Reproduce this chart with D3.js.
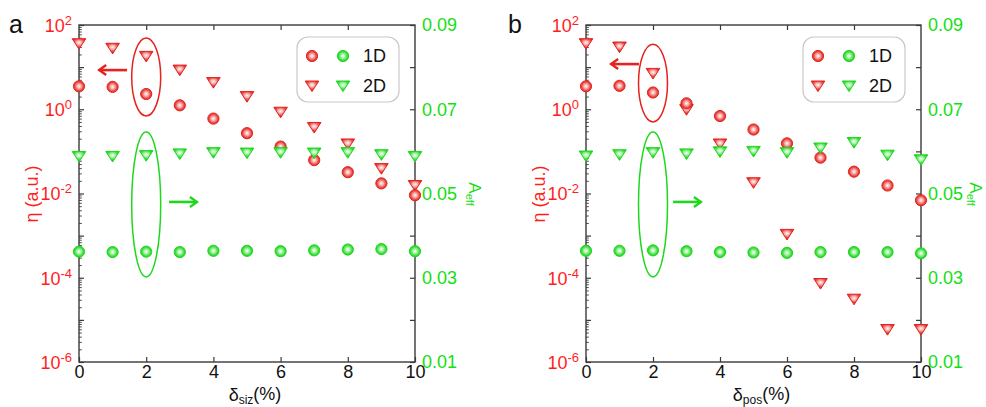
<!DOCTYPE html>
<html>
<head>
<meta charset="utf-8">
<script src="https://cdn.jsdelivr.net/npm/d3@7"></script>
<style>
  html, body { margin: 0; padding: 0; background: #fff; }
  svg { display: block; font-family: "Liberation Sans", Arial, sans-serif; }
</style>
</head>
<body>
<svg id="chart" width="986" height="407"></svg>
<script>
// Disorder level (%) along the x axis
const delta = [0, 1, 2, 3, 4, 5, 6, 7, 8, 9, 10];
const xTickValues = [0, 2, 4, 6, 8, 10];
const etaDecades = [-6, -5, -4, -3, -2, -1, 0, 1, 2];
const aeffTickValues = [0.01, 0.02, 0.03, 0.04, 0.05, 0.06, 0.07, 0.08, 0.09];

// Panel a: size disorder
const etaSiz1D = [3.5, 3.4, 2.3, 1.24, 0.6, 0.27, 0.13, 0.062, 0.032, 0.0174, 0.0091];
const etaSiz2D = [36, 28, 18, 8.5, 4.3, 2.0, 0.85, 0.37, 0.15, 0.039, 0.0155];
const aeffSiz1D = [0.0362, 0.0361, 0.0362, 0.0361, 0.0364, 0.0364, 0.0363, 0.0365, 0.0367, 0.0368, 0.0363];
const aeffSiz2D = [0.0588, 0.0588, 0.0590, 0.0594, 0.0597, 0.0596, 0.0597, 0.0596, 0.0597, 0.0592, 0.0588];

// Panel b: position disorder
const etaPos1D = [3.5, 3.6, 2.5, 1.38, 0.69, 0.33, 0.155, 0.071, 0.033, 0.0155, 0.0069];
const etaPos2D = [36, 30, 7.1, 0.98, 0.15, 0.018, 0.00107, 7.3e-5, 3.1e-5, 5.9e-6, 5.9e-6];
const aeffPos1D = [0.0364, 0.0364, 0.0365, 0.0363, 0.0361, 0.0360, 0.0359, 0.0361, 0.0361, 0.0361, 0.0358];
const aeffPos2D = [0.0589, 0.0592, 0.0597, 0.0594, 0.0599, 0.0600, 0.0597, 0.0608, 0.0621, 0.0591, 0.0580];

const RED = "#e5221d", GREEN = "#1ed81e";
const RED_TEXT = "#ff1e1e", GREEN_TEXT = "#12e012";
const AXIS = "#3a3a3a";
const FONT = 18;

const svg = d3.select("#chart");
svg.append("rect").attr("width", 986).attr("height", 407).attr("fill", "#fff");

// Shaded "sphere" fills for the markers
const defs = svg.append("defs");
function sphere(id, stops, cy) {
  const g = defs.append("radialGradient").attr("id", id)
    .attr("cx", "50%").attr("cy", cy).attr("r", "55%").attr("fx", "50%").attr("fy", cy);
  stops.forEach(([o, c]) => g.append("stop").attr("offset", o).attr("stop-color", c));
}
const redStops = [["0%", "#fff4f4"], ["30%", "#f6bcba"], ["70%", "#ea4a45"], ["100%", "#dc1f1a"]];
const greenStops = [["0%", "#f2fff2"], ["30%", "#b6f4b6"], ["70%", "#3fde3f"], ["100%", "#15c915"]];
sphere("redBall", redStops, "50%");
sphere("greenBall", greenStops, "50%");
sphere("redTri", redStops, "38%");
sphere("greenTri", greenStops, "38%");

const triPath = "M-6.8,-5L6.8,-5L0,5.6Z";

function drawMarkers(g, x, y, values, kind, color) {
  const sel = g.append("g").selectAll(kind === "circle" ? "circle" : "path")
    .data(values.map((v, i) => ({ x: delta[i], v })))
    .enter();
  if (kind === "circle") {
    sel.append("circle")
      .attr("cx", d => x(d.x)).attr("cy", d => y(d.v)).attr("r", 5.6)
      .attr("fill", color === "red" ? "url(#redBall)" : "url(#greenBall)")
      .attr("stroke", color === "red" ? RED : GREEN).attr("stroke-width", 1);
  } else {
    sel.append("path")
      .attr("d", triPath)
      .attr("transform", d => `translate(${x(d.x)},${y(d.v)})`)
      .attr("fill", color === "red" ? "url(#redTri)" : "url(#greenTri)")
      .attr("stroke", color === "red" ? RED : GREEN).attr("stroke-width", 1);
  }
}

function arrow(g, x1, x2, yv, color) {
  const dir = Math.sign(x2 - x1);
  g.append("line").attr("x1", x1).attr("x2", x2).attr("y1", yv).attr("y2", yv)
    .attr("stroke", color).attr("stroke-width", 2.6);
  g.append("path")
    .attr("d", `M${x2 - dir * 7},${yv - 5}L${x2},${yv}L${x2 - dir * 7},${yv + 5}`)
    .attr("fill", "none").attr("stroke", color).attr("stroke-width", 2.4)
    .attr("stroke-linejoin", "miter");
}

function drawPanel(p) {
  const g = svg.append("g");
  const x = d3.scaleLinear().domain([0, 10]).range([p.left, p.right]);
  const yL = d3.scaleLog().domain([1e-6, 1e2]).range([362, 25]);
  const yR = d3.scaleLinear().domain([0.01, 0.09]).range([362, 25]);

  // Minor log ticks on the left axis
  const minors = [];
  etaDecades.slice(0, -1).forEach(e => { for (let k = 2; k <= 9; k++) minors.push(k * Math.pow(10, e)); });
  g.append("g").attr("transform", `translate(${p.left},0)`)
    .call(d3.axisLeft(yL).tickValues(minors).tickSizeInner(-2.8).tickSizeOuter(0).tickFormat(""))
    .call(a => a.select(".domain").remove())
    .call(a => a.selectAll("line").attr("stroke", AXIS).attr("stroke-width", 0.9));

  // Major left axis (eta, log)
  g.append("g").attr("transform", `translate(${p.left},0)`)
    .call(d3.axisLeft(yL).tickValues(etaDecades.map(e => Math.pow(10, e)))
      .tickSizeInner(-5).tickSizeOuter(0).tickPadding(7).tickFormat(""))
    .call(a => a.select(".domain").remove())
    .call(a => a.selectAll("line").attr("stroke", AXIS).attr("stroke-width", 1.2))
    .call(a => a.selectAll("text").each(function (d) {
      const e = Math.round(Math.log10(d));
      const t = d3.select(this).attr("fill", RED_TEXT).attr("font-size", FONT)
        .attr("font-family", "Liberation Sans, Arial, sans-serif").attr("dy", "0.36em");
      if (e % 2 !== 0) return;
      t.append("tspan").text("10");
      t.append("tspan").attr("dy", "-0.55em").attr("font-size", 13).text(String(e));
    }));

  // Right axis (A_eff, linear)
  g.append("g").attr("transform", `translate(${p.right},0)`)
    .call(d3.axisRight(yR).tickValues(aeffTickValues).tickSizeInner(-5).tickSizeOuter(0).tickPadding(7)
      .tickFormat(d => Math.round(d * 100) % 2 === 1 ? d3.format(".2f")(d) : ""))
    .call(a => a.select(".domain").remove())
    .call(a => a.selectAll("line").attr("stroke", AXIS).attr("stroke-width", 1.2))
    .call(a => a.selectAll("text").attr("fill", GREEN_TEXT).attr("font-size", FONT)
      .attr("font-family", "Liberation Sans, Arial, sans-serif"));

  // Bottom axis
  g.append("g").attr("transform", "translate(0,362)")
    .call(d3.axisBottom(x).tickValues(xTickValues).tickSizeInner(-5).tickSizeOuter(0).tickPadding(3))
    .call(a => a.select(".domain").remove())
    .call(a => a.selectAll("line").attr("stroke", AXIS).attr("stroke-width", 1.2))
    .call(a => a.selectAll("text").attr("fill", "#111").attr("font-size", FONT)
      .attr("font-family", "Liberation Sans, Arial, sans-serif"));

  // Top axis (ticks only)
  g.append("g").attr("transform", "translate(0,25)")
    .call(d3.axisTop(x).tickValues(xTickValues.slice(1, -1)).tickSizeInner(-5).tickSizeOuter(0).tickFormat(""))
    .call(a => a.select(".domain").remove())
    .call(a => a.selectAll("line").attr("stroke", AXIS).attr("stroke-width", 1.2));

  // Frame
  g.append("rect").attr("x", p.left).attr("y", 25).attr("width", p.right - p.left).attr("height", 337)
    .attr("fill", "none").attr("stroke", AXIS).attr("stroke-width", 1.4);

  // Annotations: ellipses and arrows pointing to each axis
  g.append("ellipse").attr("cx", x(2)).attr("cy", (yL(p.redEll[0]) + yL(p.redEll[1])) / 2)
    .attr("rx", 14.5).attr("ry", (yL(p.redEll[1]) - yL(p.redEll[0])) / 2)
    .attr("fill", "none").attr("stroke", RED).attr("stroke-width", 1.5);
  g.append("ellipse").attr("cx", x(2)).attr("cy", (yR(p.greenEll[0]) + yR(p.greenEll[1])) / 2)
    .attr("rx", 14.5).attr("ry", (yR(p.greenEll[1]) - yR(p.greenEll[0])) / 2)
    .attr("fill", "none").attr("stroke", GREEN).attr("stroke-width", 1.5);
  arrow(g, x(p.redArrow[0]), x(p.redArrow[1]), yL(p.redArrow[2]), RED);
  arrow(g, x(p.greenArrow[0]), x(p.greenArrow[1]), yR(p.greenArrow[2]), GREEN);

  // Data markers
  drawMarkers(g, x, yL, p.eta2D, "tri", "red");
  drawMarkers(g, x, yL, p.eta1D, "circle", "red");
  drawMarkers(g, x, yR, p.aeff1D, "circle", "green");
  drawMarkers(g, x, yR, p.aeff2D, "tri", "green");

  // Legend
  const lx = p.right - 118, ly = 37;
  const lg = g.append("g").attr("transform", `translate(${lx},${ly})`);
  lg.append("rect").attr("width", 102).attr("height", 65).attr("rx", 11)
    .attr("fill", "#fff").attr("stroke", "#c9c9c9").attr("stroke-width", 1.2);
  [["1D", "circle", 19], ["2D", "tri", 49]].forEach(([label, kind, ry]) => {
    const row = lg.append("g");
    const mk = (cx, color) => {
      if (kind === "circle") {
        row.append("circle").attr("cx", cx).attr("cy", ry).attr("r", 5.6)
          .attr("fill", color === "red" ? "url(#redBall)" : "url(#greenBall)")
          .attr("stroke", color === "red" ? RED : GREEN);
      } else {
        row.append("path").attr("d", triPath).attr("transform", `translate(${cx},${ry})`)
          .attr("fill", color === "red" ? "url(#redTri)" : "url(#greenTri)")
          .attr("stroke", color === "red" ? RED : GREEN);
      }
    };
    mk(15, "red");
    mk(46, "green");
    row.append("text").attr("x", 66).attr("y", ry).attr("dy", "0.36em")
      .attr("font-size", FONT).attr("fill", "#111").text(label);
  });

  // Axis titles
  g.append("text").attr("transform", `translate(${p.left - 41},194) rotate(-90)`)
    .attr("text-anchor", "middle").attr("font-size", FONT).attr("fill", RED_TEXT).text("η (a.u.)");
  const at = g.append("text").attr("transform", `translate(${p.right + p.aeffOffset},194) rotate(90)`)
    .attr("text-anchor", "middle").attr("font-size", 17).attr("fill", GREEN_TEXT);
  at.append("tspan").text("A");
  at.append("tspan").attr("dy", "0.3em").attr("font-size", 11).text("eff");
  const xt = g.append("text").attr("x", (p.left + p.right) / 2 + 8).attr("y", 401)
    .attr("text-anchor", "middle").attr("font-size", FONT).attr("fill", "#111");
  xt.append("tspan").text("δ");
  xt.append("tspan").attr("font-size", 12).attr("dy", "0.25em").text(p.sub);
  xt.append("tspan").attr("dy", "-0.25em").text("(%)");

  // Panel letter
  svg.append("text").attr("x", p.letterX).attr("y", 33).attr("font-size", 25).attr("fill", "#111").text(p.letter);
}

drawPanel({
  left: 79, right: 415, letter: "a", letterX: 9, sub: "siz", aeffOffset: 54,
  eta1D: etaSiz1D, eta2D: etaSiz2D, aeff1D: aeffSiz1D, aeff2D: aeffSiz2D,
  redEll: [49, 0.69], greenEll: [0.0646, 0.0302],
  redArrow: [1.43, 0.6, 8.5], greenArrow: [2.68, 3.51, 0.048]
});
drawPanel({
  left: 586, right: 921, letter: "b", letterX: 508, sub: "pos", aeffOffset: 49,
  eta1D: etaPos1D, eta2D: etaPos2D, aeff1D: aeffPos1D, aeff2D: aeffPos2D,
  redEll: [35, 0.5], greenEll: [0.0646, 0.0302],
  redArrow: [1.58, 0.75, 11.8], greenArrow: [2.6, 3.43, 0.048]
});
</script>
</body>
</html>
